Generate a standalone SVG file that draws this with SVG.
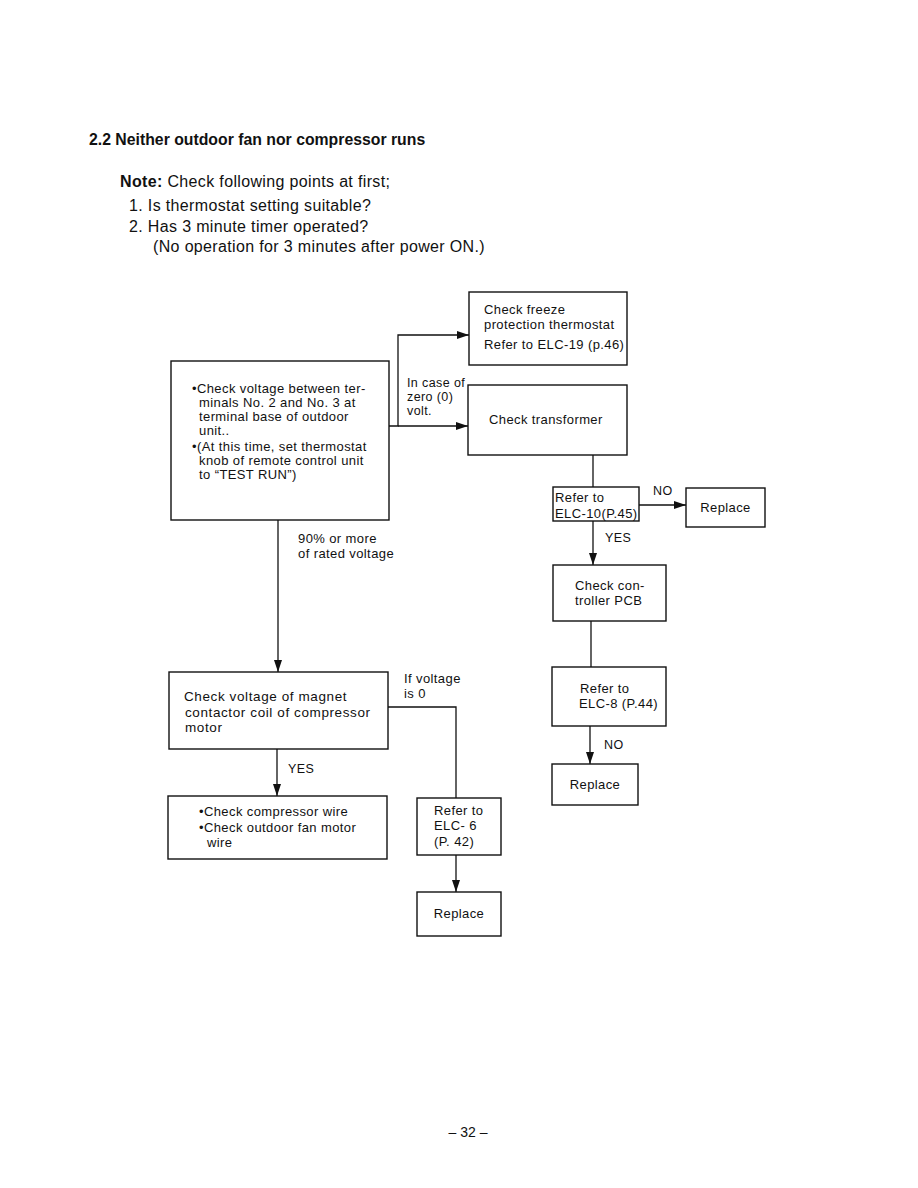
<svg xmlns="http://www.w3.org/2000/svg" width="918" height="1188" viewBox="0 0 918 1188">
<defs>
<marker id="ah" viewBox="0 0 12 8" refX="12" refY="4" markerWidth="12" markerHeight="8" markerUnits="userSpaceOnUse" orient="auto">
<path d="M0,0 L12,4 L0,8 Z" fill="#111"/>
</marker>
</defs>
<style>
text{font-family:"Liberation Sans",Arial,sans-serif;fill:#111}
.h{font-size:15.8px;font-weight:bold}
.n{font-size:16px;letter-spacing:0.35px}
.t{font-size:13px;letter-spacing:0.4px}
.m{font-size:13.5px;letter-spacing:0.6px}
.s{font-size:12.5px;letter-spacing:0.4px}
.l{font-size:13px;letter-spacing:0.4px}
rect{fill:#fff;stroke:#111;stroke-width:1.4}
.c path{fill:none;stroke:#111;stroke-width:1.3}
</style>
<rect x="0" y="0" width="918" height="1188" style="stroke:none;fill:#fff"/>
<g id="heading">
<text class="h" x="89" y="145">2.2  Neither outdoor fan nor compressor runs</text>
<text class="n" x="120" y="187"><tspan font-weight="bold">Note:</tspan>  Check following points at first;</text>
<text class="n" x="129" y="211">1.  Is thermostat setting suitable?</text>
<text class="n" x="129" y="232">2.  Has 3 minute timer operated?</text>
<text class="n" x="153" y="252">(No operation for 3 minutes after power ON.)</text>
</g>
<g class="c" id="connectors">
<path d="M389,426 H398 V335 H469" marker-end="url(#ah)"/>
<path d="M398,426 H468" marker-end="url(#ah)"/>
<path d="M593,455 V487"/>
<path d="M639,505 H686" marker-end="url(#ah)"/>
<path d="M593,521 V565" marker-end="url(#ah)"/>
<path d="M591,621 V667"/>
<path d="M590,726 V764" marker-end="url(#ah)"/>
<path d="M278,520 V672" marker-end="url(#ah)"/>
<path d="M388,707 H456 V798"/>
<path d="M277,749 V796" marker-end="url(#ah)"/>
<path d="M456,855 V892" marker-end="url(#ah)"/>
</g>
<g id="labels">
<text class="s" x="407" y="387">In case of</text>
<text class="s" x="407" y="401">zero (0)</text>
<text class="s" x="407" y="415">volt.</text>
<text class="s" x="653" y="495">NO</text>
<text class="s" x="605" y="542">YES</text>
<text class="l" x="298" y="543">90% or more</text>
<text class="l" x="298" y="558">of rated voltage</text>
<text class="l" x="404" y="683">If voltage</text>
<text class="l" x="404" y="698">is 0</text>
<text class="s" x="288" y="773">YES</text>
<text class="s" x="604" y="749">NO</text>
</g>
<g id="n_freeze">
<rect x="469" y="292" width="158" height="73"/>
<text class="t" x="484" y="314">Check freeze</text>
<text class="t" x="484" y="329">protection thermostat</text>
<text class="t" x="484" y="349" letter-spacing="0.2">Refer to ELC-19 (p.46)</text>
</g>
<g id="n_transformer">
<rect x="468" y="385" width="159" height="70"/>
<text class="t" x="489" y="424">Check transformer</text>
</g>
<g id="n_check_voltage">
<rect x="171" y="361" width="218" height="159"/>
<text class="t" x="192" y="393">•Check voltage between ter-</text>
<text class="t" x="199" y="407">minals No. 2 and No. 3 at</text>
<text class="t" x="199" y="421">terminal base of outdoor</text>
<text class="t" x="199" y="435">unit..</text>
<text class="t" x="192" y="451" letter-spacing="0.1">•(At this time, set thermostat</text>
<text class="t" x="199" y="465" letter-spacing="0.1">knob of remote control unit</text>
<text class="t" x="199" y="479">to “TEST RUN”)</text>
</g>
<g id="n_elc10">
<rect x="553" y="487" width="86" height="34"/>
<text class="t" x="555" y="502">Refer to</text>
<text class="t" x="555" y="518">ELC-10(P.45)</text>
</g>
<g id="n_replace1">
<rect x="686" y="488" width="79" height="39"/>
<text class="t" x="725.5" y="512" text-anchor="middle">Replace</text>
</g>
<g id="n_pcb">
<rect x="553" y="565" width="113" height="56"/>
<text class="t" x="575" y="590">Check con-</text>
<text class="t" x="575" y="605">troller PCB</text>
</g>
<g id="n_elc8">
<rect x="552" y="667" width="114" height="59"/>
<text class="t" x="580" y="693">Refer to</text>
<text class="t" x="579" y="708">ELC-8 (P.44)</text>
</g>
<g id="n_replace2">
<rect x="552" y="764" width="86" height="41"/>
<text class="t" x="595" y="789" text-anchor="middle">Replace</text>
</g>
<g id="n_magnet">
<rect x="169" y="672" width="219" height="77"/>
<text class="m" x="184" y="701" letter-spacing="0.9">Check voltage of magnet</text>
<text class="m" x="185" y="717">contactor  coil of compressor</text>
<text class="m" x="185" y="732">motor</text>
</g>
<g id="n_wire">
<rect x="168" y="796" width="219" height="63"/>
<text class="t" x="199" y="816">•Check compressor wire</text>
<text class="t" x="199" y="832">•Check outdoor fan motor</text>
<text class="t" x="207" y="847">wire</text>
</g>
<g id="n_elc6">
<rect x="417" y="798" width="84" height="57"/>
<text class="t" x="434" y="815">Refer to</text>
<text class="t" x="434" y="830">ELC- 6</text>
<text class="t" x="434" y="846">(P. 42)</text>
</g>
<g id="n_replace3">
<rect x="417" y="892" width="84" height="44"/>
<text class="t" x="459" y="918" text-anchor="middle">Replace</text>
</g>
<text x="468" y="1137" text-anchor="middle" style="font-size:14px">– 32 –</text>
</svg>
